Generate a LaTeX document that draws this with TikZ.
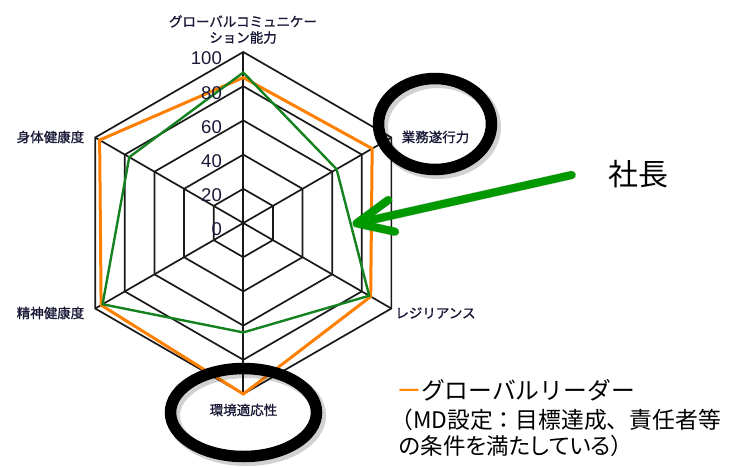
\documentclass[tikz,border=0pt]{standalone}
\usepackage{fontspec}
\newfontfamily\jp{Noto Sans CJK JP}
\newfontfamily\jpb{Noto Sans CJK JP}[FakeBold=1.2]
\newfontfamily\jpp{Noto Sans CJK JP}[RawFeature={+palt}]
\newfontfamily\numf{Liberation Sans}
\definecolor{gridc}{RGB}{25,25,25}
\definecolor{lorange}{RGB}{255,128,0}
\definecolor{lgreen}{RGB}{20,130,30}
\definecolor{agreen}{RGB}{0,153,0}
\definecolor{labc}{RGB}{25,25,55}
\tikzset{
  gridline/.style={draw=gridc, line width=1.7pt},
  orangeline/.style={draw=lorange, line width=3pt, line join=miter},
  greenline/.style={draw=lgreen, line width=2.4pt, line join=miter},
  axislab/.style={font=\jpb\fontsize{13.5}{16}\selectfont, text=labc, inner sep=0pt, align=center},
  scalelab/.style={font=\numf\fontsize{18.5}{18.5}\selectfont, text=labc, inner sep=0pt, anchor=east},
  ring/.style={draw=black, line width=11.5pt},
  ringshadow/.style={draw=black, opacity=0.18, line width=13pt},
  legendtxt/.style={font=\jp\fontsize{23.8}{26}\selectfont, inner sep=0pt, anchor=west},
}
\begin{document}
\begin{tikzpicture}[x=1pt, y=-1pt]
\useasboundingbox (0,0) rectangle (748,467);
% ---- radar chart ----
\begin{scope}[shift={(243.3,223)}, y=1pt]
  \foreach \r in {34.2,68.4,102.6,136.8,171} {
    \draw[gridline] (90:\r) -- (30:\r) -- (-30:\r) -- (-90:\r) -- (-150:\r) -- (150:\r) -- cycle;
  }
  \foreach \a in {90,30,-30,-90,-150,150} {
    \draw[gridline] (0,0) -- (\a:171);
  }
  \draw[orangeline] (90:145.4) -- (30:148.8) -- (-30:147.1) -- (-90:171) -- (-150:164.2) -- (150:165.9) -- cycle;
  \draw[greenline] (90:150.5) -- (30:107.7) -- (-30:145.4) -- (-90:109.4) -- (-150:162.5) -- (150:131.7) -- cycle;
\end{scope}
% scale labels
\node[scalelab] (s100) at (222,58) {100};
\node[scalelab] (s80) at (222,93) {80};
\node[scalelab] (s60) at (222,127) {60};
\node[scalelab] (s40) at (222,161) {40};
\node[scalelab] (s20) at (222,195) {20};
\node[scalelab] (s0) at (222,229) {0};
% axis labels
\node[axislab] (ltop) at (243,29.5) {グローバルコミュニケー\\ション能力};
\node[axislab] (lul) at (50.5,137) {身体健康度};
\node[axislab] (lur) at (435.5,137) {業務遂行力};
\node[axislab] (lll) at (50.5,313) {精神健康度};
\node[axislab] (llr) at (435.5,313) {レジリアンス};
\node[axislab] (lb) at (243.5,410) {環境適応性};
% ellipses
\draw[ringshadow] (438,127) ellipse [x radius=56.5, y radius=45.5];
\draw[ring] (435,124) ellipse [x radius=56.5, y radius=45.5];
\draw[ringshadow] (246.5,415.5) ellipse [x radius=73, y radius=44];
\draw[ring] (243.5,412.5) ellipse [x radius=73, y radius=44];
% arrow
\coordinate (atail) at (571.7,175);
\coordinate (atip) at (356.7,223.3);
\coordinate (aarm1) at (388.3,200);
\coordinate (aarm2) at (395,231.7);
\begin{scope}[shift={(3,4)}]
\draw[draw=black, opacity=0.15, line width=9pt, line cap=round, line join=round] (atail) -- (atip) (aarm1) -- (atip) -- (aarm2);
\end{scope}
\draw[draw=agreen, line width=8pt, line cap=round, line join=round] (atail) -- (atip);
\draw[draw=agreen, line width=8pt, line cap=round, line join=round] (aarm1) -- (atip) -- (aarm2);
% texts
\node[font=\jp\fontsize{30}{30}\selectfont, inner sep=0pt] (shacho) at (638,174) {社長};
\node[legendtxt] (leg1) at (397,390) {{\color{lorange}ー}グローバルリーダー};
\node[legendtxt, font=\jp\fontsize{22.8}{26}\selectfont] (leg2) at (390,420) {（MD設定：目標達成、責任者等};
\node[legendtxt, font=\jpp\fontsize{22.5}{26}\selectfont] (leg3) at (399,446) {の条件を満たしている）};
\end{tikzpicture}
\end{document}
